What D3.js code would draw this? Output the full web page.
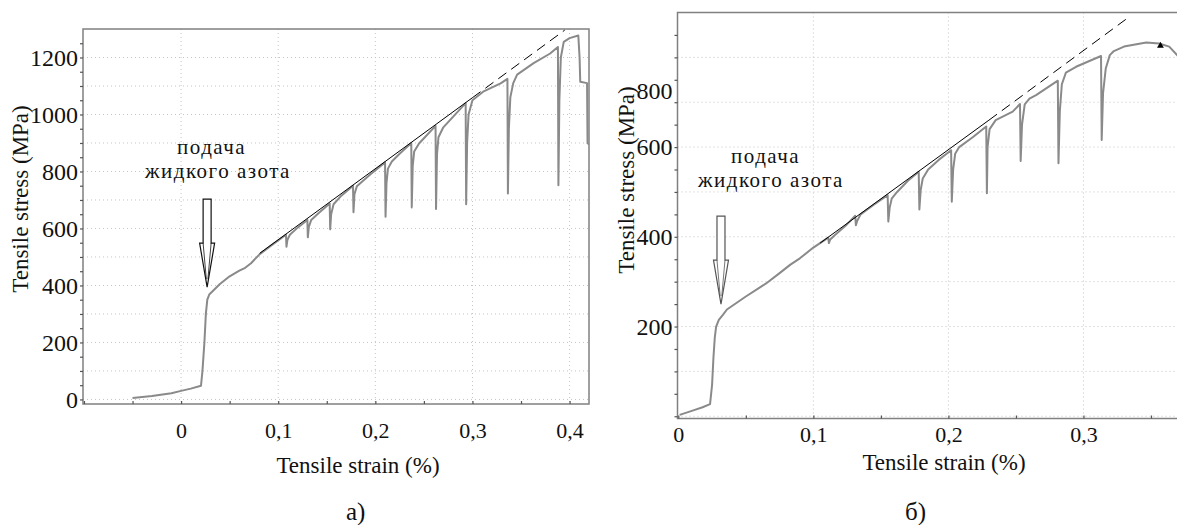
<!DOCTYPE html>
<html><head><meta charset="utf-8">
<script src="https://cdn.jsdelivr.net/npm/d3@7"></script>
<style>
body{margin:0;background:#fff}
svg{display:block}
</style>
</head><body>
<svg id="c" width="1177" height="525" font-family="Liberation Serif"></svg>
<script>
// ---------- data (strain %, stress MPa) ----------
const leftCurve = [
[-0.050,5],[-0.030,12],[-0.010,22],[0.000,30],[0.010,38],[0.0205,48],
[0.022,100],[0.024,200],[0.0255,300],[0.027,350],[0.029,368],
[0.040,405],[0.050,432],[0.060,452],[0.066,462],[0.072,478],[0.081,510],[0.095,546],[0.108,578],
[0.1085,536],[0.1095,560],[0.112,578],[0.120,603],[0.130,630],
[0.1305,569],[0.1315,605],[0.134,630],[0.142,655],[0.153,688],
[0.1535,597],[0.1545,650],[0.157,685],[0.165,715],[0.177,750],
[0.1775,657],[0.1785,720],[0.181,748],[0.195,790],[0.210,832],
[0.2105,641],[0.2115,760],[0.213,810],[0.217,835],[0.225,862],[0.237,900],
[0.2375,674],[0.2385,820],[0.240,870],[0.245,898],[0.262,960],
[0.2625,668],[0.2635,860],[0.265,920],[0.270,955],[0.293,1040],
[0.2935,685],[0.2945,900],[0.296,1000],[0.300,1050],[0.311,1080],[0.329,1109],[0.336,1125],
[0.3365,723],[0.3375,950],[0.339,1060],[0.342,1110],[0.346,1140],[0.363,1180],[0.380,1214],[0.388,1237],
[0.3885,752],[0.3895,1050],[0.391,1200],[0.394,1255],[0.400,1268],[0.409,1277],[0.4103,1200],[0.411,1115],[0.418,1110],[0.4185,899],[0.421,893]
];
const leftFitSolid  = [[0.081,513],[0.300,1059]];
const leftFitDashed = [[0.300,1059],[0.395,1296]];

const rightCurve = [
[0.001,3],[0.010,12],[0.018,20],[0.0235,27],[0.025,70],[0.026,130],[0.027,175],[0.028,200],[0.030,215],[0.033,226],[0.036,238],
[0.050,267],[0.065,296],[0.075,319],[0.083,338],[0.090,352],[0.100,376],[0.111,398],
[0.1115,386],[0.1125,394],[0.116,404],[0.124,425],[0.131,447],
[0.1315,426],[0.1325,436],[0.135,450],[0.145,472],[0.155,493],
[0.1555,434],[0.1565,465],[0.158,485],[0.162,500],[0.170,525],[0.178,545],
[0.1785,461],[0.1795,505],[0.181,530],[0.185,550],[0.193,572],[0.202,593],
[0.2025,478],[0.2035,550],[0.205,585],[0.208,600],[0.218,622],[0.228,646],
[0.2285,497],[0.229,600],[0.2305,640],[0.235,660],[0.2476,679],[0.253,696],
[0.2535,569],[0.2545,650],[0.2565,695],[0.260,708],[0.2649,716],[0.281,748],
[0.2815,564],[0.2825,680],[0.284,740],[0.287,766],[0.2945,779],[0.313,803],
[0.3135,616],[0.3145,720],[0.3165,775],[0.3195,805],[0.3225,814],[0.330,824],[0.3465,833],[0.356,831],[0.3635,824],[0.370,803]
];
const rightFitSolid  = [[0.105,386],[0.230,660]];
const rightFitDashed = [[0.230,660],[0.3333,889]];
const rightMarker = [[0.357,826]];

const leftXTicks  = [0, 0.1, 0.2, 0.3, 0.4];
const leftYTicks  = [0, 200, 400, 600, 800, 1000, 1200];
const rightXTicks = [0, 0.1, 0.2, 0.3];
const rightYTicks = [200, 400, 600, 800];

const leftArrowTip  = [0.0268, 394];
const rightArrowTip = [0.0316, 250];
const annotLines = ["подача", "жидкого азота"];
const captions = ["а)", "б)"];
const xTitle = "Tensile strain (%)";
const yTitle = "Tensile stress (MPa)";

// ---------- drawing ----------
const FONT = "Liberation Serif";
const svg = d3.select("#c");
const fmt = d => d === 0 ? "0" : d3.format(".1f")(d).replace(".", ",");
const FRAME = "#808080", GRID = "#c4c4c4", CURVE = "#8a8a8a";

function panel(o) {
  const x = d3.scaleLinear().domain(o.xDomain).range([o.left, o.right]);
  const y = d3.scaleLinear().domain(o.yDomain).range([o.bottom, o.top]);
  const g = svg.append("g");
  const cid = "clip" + o.id;
  svg.append("clipPath").attr("id", cid).append("rect")
    .attr("x", o.left).attr("y", o.top - 1).attr("width", o.right - o.left).attr("height", o.bottom - o.top + 1);

  g.append("g").selectAll("line").data(o.xGrid).join("line")
    .attr("x1", d => x(d)).attr("x2", d => x(d)).attr("y1", o.top).attr("y2", o.bottom)
    .attr("stroke", GRID).attr("stroke-dasharray", "1,3");
  g.append("g").selectAll("line").data(o.yGrid).join("line")
    .attr("y1", d => y(d)).attr("y2", d => y(d)).attr("x1", o.left).attr("x2", o.right)
    .attr("stroke", GRID).attr("stroke-dasharray", "1,3");

  g.append("rect").attr("x", o.left).attr("y", o.top).attr("width", o.right - o.left).attr("height", o.bottom - o.top)
    .attr("fill", "none").attr("stroke", FRAME).attr("stroke-width", 1.5);

  const ax = g.append("g").attr("transform", `translate(0,${o.bottom})`)
    .call(d3.axisBottom(x).tickValues(o.xMinor).tickSize(-3).tickFormat(""));
  const ay = g.append("g").attr("transform", `translate(${o.left},0)`)
    .call(d3.axisLeft(y).tickValues(o.yMinor).tickSize(3).tickFormat(""));
  [ax, ay].forEach(a => { a.select(".domain").remove(); a.selectAll("line").attr("stroke", "#555").attr("stroke-width", 1.2); });

  const lx = g.append("g").attr("transform", `translate(0,${o.bottom})`)
    .call(d3.axisBottom(x).tickValues(o.xTicks).tickSize(0).tickPadding(o.xPad).tickFormat(fmt));
  lx.select(".domain").remove();
  lx.attr("font-family", FONT);
  lx.selectAll("text").attr("font-size", 22).attr("fill", "#111");
  const ly = g.append("g").attr("transform", `translate(${o.left},0)`)
    .call(d3.axisLeft(y).tickValues(o.yTicks).tickSize(0).tickPadding(5).tickFormat(d => String(d)));
  ly.select(".domain").remove();
  ly.attr("font-family", FONT);
  ly.selectAll("text").attr("font-size", 24).attr("fill", "#111")
    .attr("dy", d => (o.yLabelShift && o.yLabelShift[d]) ? (o.yLabelShift[d] + 8) + "px" : "0.32em");

  const line = d3.line().x(d => x(d[0])).y(d => y(d[1]));
  const cg = g.append("g").attr("clip-path", `url(#${cid})`);
  cg.append("path").datum(o.curve).attr("d", line).attr("fill", "none")
    .attr("stroke", CURVE).attr("stroke-width", 2).attr("stroke-linejoin", "round");
  cg.append("path").datum(o.fitSolid).attr("d", line).attr("fill", "none")
    .attr("stroke", "#000").attr("stroke-width", 1);
  cg.append("path").datum(o.fitDashed).attr("d", line).attr("fill", "none")
    .attr("stroke", "#000").attr("stroke-width", 1).attr("stroke-dasharray", "10,6");
  if (o.marker) {
    cg.selectAll(".mk").data(o.marker).join("path")
      .attr("transform", d => `translate(${x(d[0])},${y(d[1])})`)
      .attr("d", d3.symbol(d3.symbolTriangle, 20)).attr("fill", "#000");
  }

  const t = o.arrowTip;
  const ag = g.append("g").attr("transform", `translate(${x(t[0])},${y(t[1])})`);
  ag.append("path")
    .attr("d", `M-4,-88 L4,-88 L4,-44 L7.5,-44 L0,0 L-7.5,-44 L-4,-44 Z`)
    .attr("fill", "#fff").attr("stroke", o.arrowColor).attr("stroke-width", 1.2);
  ag.append("path").attr("d", "M-4,-44 L-0.8,-8 M4,-44 L0.8,-8")
    .attr("fill", "none").attr("stroke", o.arrowColor).attr("stroke-width", 0.8);

  o.annot.forEach((p, i) => {
    svg.append("text").attr("x", p[0]).attr("y", p[1]).attr("font-family", FONT).attr("fill", "#111")
      .attr("font-size", 21).attr("letter-spacing", 1.5).text(annotLines[i]);
  });

  svg.append("text").attr("x", o.xTitlePos[0]).attr("y", o.xTitlePos[1]).attr("text-anchor", "middle")
    .attr("font-family", FONT).attr("fill", "#111").attr("font-size", 23).text(xTitle);
  svg.append("text").attr("transform", `translate(${o.yTitlePos[0]},${o.yTitlePos[1]}) rotate(-90)`)
    .attr("text-anchor", "middle").attr("font-family", FONT).attr("fill", "#111").attr("font-size", 23).text(yTitle);
  svg.append("text").attr("x", o.capPos[0]).attr("y", o.capPos[1]).attr("font-family", FONT).attr("fill", "#111")
    .attr("font-size", 25).text(o.caption);
}

panel({
  id: "L", left: 83, right: 589, top: 29, bottom: 404,
  xDomain: [-0.101, 0.42], yDomain: [-16, 1300],
  xGrid: d3.range(0, 0.41, 0.1), yGrid: d3.range(0, 1201, 100),
  xMinor: d3.range(-0.1, 0.401, 0.05), yMinor: d3.range(0, 1251, 50),
  xTicks: leftXTicks, yTicks: leftYTicks, xPad: 18,
  curve: leftCurve, fitSolid: leftFitSolid, fitDashed: leftFitDashed,
  arrowTip: leftArrowTip, arrowColor: "#111",
  annot: [[177, 154], [145, 178]],
  xTitlePos: [358, 473], yTitlePos: [28, 199],
  capPos: [346, 520], caption: captions[0]
});

panel({
  id: "R", left: 677.5, right: 1178, top: 12.5, bottom: 418.5,
  xDomain: [-0.0006, 0.37], yDomain: [-5, 900],
  xGrid: d3.range(0.1, 0.31, 0.1), yGrid: d3.range(0, 801, 100),
  xMinor: d3.range(0, 0.351, 0.05), yMinor: d3.range(0, 851, 50),
  xTicks: rightXTicks, yTicks: rightYTicks, xPad: 8,
  yLabelShift: {800: 33},
  curve: rightCurve, fitSolid: rightFitSolid, fitDashed: rightFitDashed, marker: rightMarker,
  arrowTip: rightArrowTip, arrowColor: "#555",
  annot: [[731, 163], [698, 187]],
  xTitlePos: [944, 470], yTitlePos: [634, 180],
  capPos: [905, 520], caption: captions[1]
});
</script>
</body></html>
